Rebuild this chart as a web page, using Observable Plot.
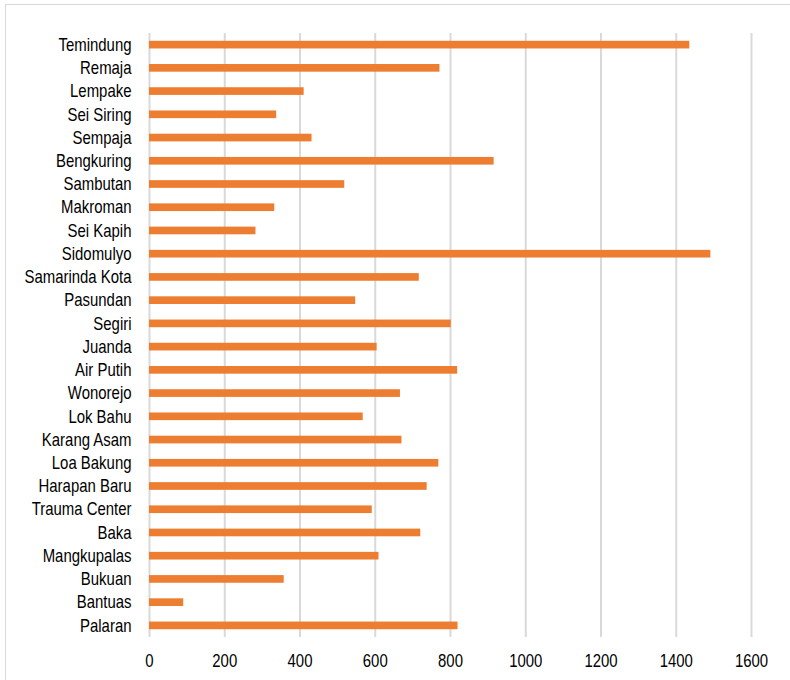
<!DOCTYPE html>
<html>
<head>
<meta charset="utf-8">
<script src="https://cdn.jsdelivr.net/npm/d3@7"></script>
<script src="https://cdn.jsdelivr.net/npm/@observablehq/plot@0.6"></script>
<style>
  html, body { margin: 0; padding: 0; background: #fff; overflow: hidden; }
  #frame { position: absolute; left: 5px; top: 4px; width: 800px; height: 700px;
           border-left: 1px solid #d9d9d9; border-top: 1px solid #d9d9d9; }
  #chart { position: absolute; left: 0; top: 0; }
</style>
</head>
<body>
<div id="frame"></div>
<div id="chart"></div>
<script>
const categories = [
  "Temindung", "Remaja", "Lempake", "Sei Siring", "Sempaja", "Bengkuring",
  "Sambutan", "Makroman", "Sei Kapih", "Sidomulyo", "Samarinda Kota", "Pasundan",
  "Segiri", "Juanda", "Air Putih", "Wonorejo", "Lok Bahu", "Karang Asam",
  "Loa Bakung", "Harapan Baru", "Trauma Center", "Baka", "Mangkupalas",
  "Bukuan", "Bantuas", "Palaran"
];
const values = [
  1436, 772, 411, 338, 432, 916,
  519, 333, 283, 1492, 717, 548,
  802, 605, 819, 667, 568, 671,
  769, 738, 592, 721, 610,
  358, 91, 820
];
const xTicks = [0, 200, 400, 600, 800, 1000, 1200, 1400, 1600];

const data = categories.map((c, i) => ({ name: c, value: values[i] }));

const chart = Plot.plot({
  width: 790,
  height: 680,
  marginLeft: 149,
  marginRight: 39,
  marginTop: 33,
  marginBottom: 43,
  style: { fontFamily: "'Liberation Sans', Arial, sans-serif", fontSize: "18px", color: "#000", background: "transparent" },
  x: { domain: [0, 1600], ticks: xTicks, tickFormat: d => String(d), label: null, tickSize: 0, tickPadding: 17 },
  y: { domain: categories, label: null, tickSize: 0, tickPadding: 18, paddingInner: 0.67, paddingOuter: 0.335, round: false },
  marks: [
    Plot.ruleX(xTicks, { stroke: "#d9d9d9", strokeWidth: 2, strokeOpacity: 1 }),
    Plot.barX(data, { x: "value", y: "name", fill: "#ED7D31" })
  ]
});

// Condense axis label glyphs horizontally to mimic a narrow sans face.
const squeeze = 0.83;
chart.querySelectorAll('g[aria-label$="tick label"] text').forEach(t => {
  const tr = t.getAttribute("transform");
  if (tr) {
    t.setAttribute("transform", tr + ` scale(${squeeze},1)`);
  } else {
    const x = +(t.getAttribute("x") || 0), y = +(t.getAttribute("y") || 0);
    t.setAttribute("x", 0); t.setAttribute("y", 0);
    t.setAttribute("transform", `translate(${x},${y}) scale(${squeeze},1)`);
  }
});
document.getElementById("chart").appendChild(chart);
</script>
</body>
</html>
